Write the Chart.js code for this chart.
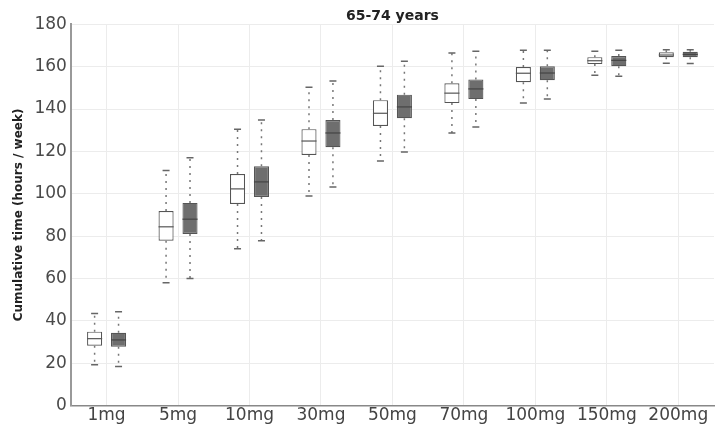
<!DOCTYPE html>
<html>
<head>
<meta charset="utf-8">
<script src="https://cdn.jsdelivr.net/npm/chart.js@4"></script>
<style>
  html, body { margin: 0; padding: 0; background: #fff; }
  #wrap { width: 726px; height: 426px; }
</style>
</head>
<body>
<div id="wrap"><canvas id="myChart"></canvas></div>
<script>
// dose categories
var doses = ["1mg", "5mg", "10mg", "30mg", "50mg", "70mg", "100mg", "150mg", "200mg"];

// box stats per dose: [min, q1, median, q3, max]
var whiteStats = [
  [19.3, 28.3, 31.6, 34.9, 43.5],
  [58, 77.8, 84.4, 91.9, 111],
  [74, 95.2, 102.3, 109.3, 130.5],
  [99, 118.3, 124.9, 130.5, 150.3],
  [115.5, 132, 138, 144.2, 160.2],
  [128.7, 142.8, 147.5, 152.2, 166.4],
  [142.8, 152.7, 156.9, 159.8, 167.8],
  [156, 161.2, 162.8, 164.5, 167.3],
  [161.6, 164.5, 165.5, 166.8, 168]
];
var greyStats = [
  [18.4, 27.8, 31, 34.4, 44.3],
  [60, 81, 88, 95.7, 117],
  [77.8, 98.5, 105.6, 113, 134.8],
  [103.2, 122, 128.7, 134.8, 153.2],
  [119.7, 135.7, 141, 146.8, 162.6],
  [131.5, 144.7, 149.5, 154, 167.3],
  [144.7, 153.6, 157, 160.2, 167.8],
  [155.5, 160.2, 163, 165, 167.8],
  [161.5, 164.5, 165.8, 167, 168]
];

var yTicks = [0, 20, 40, 60, 80, 100, 120, 140, 160, 180];

var allStats = [whiteStats, greyStats];

// whiskers + medians, drawn on top of the floating bars
var boxPlugin = {
  id: "boxWhiskers",
  afterDatasetsDraw: function (chart) {
    var ctx = chart.ctx;
    var y = chart.scales.y;
    allStats.forEach(function (stats, di) {
      var meta = chart.getDatasetMeta(di);
      meta.data.forEach(function (bar, j) {
        var s = stats[j];
        var x = bar.x, half = bar.width / 2;
        var pMin = y.getPixelForValue(s[0]);
        var pQ1 = y.getPixelForValue(s[1]);
        var pMed = y.getPixelForValue(s[2]);
        var pQ3 = y.getPixelForValue(s[3]);
        var pMax = y.getPixelForValue(s[4]);
        ctx.save();
        ctx.strokeStyle = "#777";
        ctx.lineWidth = 1.5;
        ctx.setLineDash([2, 5]);
        ctx.beginPath();
        ctx.moveTo(x, pQ3); ctx.lineTo(x, pMax);
        ctx.moveTo(x, pQ1); ctx.lineTo(x, pMin);
        ctx.stroke();
        ctx.setLineDash([]);
        ctx.strokeStyle = "#666";
        ctx.beginPath();
        ctx.moveTo(x - 3.5, pMax); ctx.lineTo(x + 3.5, pMax);
        ctx.moveTo(x - 3.5, pMin); ctx.lineTo(x + 3.5, pMin);
        ctx.stroke();
        ctx.strokeStyle = di === 0 ? "#555" : "#444";
        ctx.lineWidth = 1.2;
        ctx.beginPath();
        ctx.moveTo(x - half, pMed); ctx.lineTo(x + half, pMed);
        ctx.stroke();
        ctx.restore();
      });
    });
  }
};

document.addEventListener("DOMContentLoaded", function () {
  var ctx = document.getElementById("myChart").getContext("2d");

  var data = {
    labels: doses,
    datasets: [
      {
        label: "white",
        data: whiteStats.map(function (s) { return [s[1], s[3]]; }),
        backgroundColor: "#ffffff",
        borderColor: "#555",
        borderWidth: 1.2,
        borderSkipped: false
      },
      {
        label: "grey",
        data: greyStats.map(function (s) { return [s[1], s[3]]; }),
        backgroundColor: "#6e6e6e",
        borderColor: "#555",
        borderWidth: 1.2,
        borderSkipped: false
      }
    ]
  };

  var options = {
    responsive: true,
    maintainAspectRatio: false,
    animation: false,
    categoryPercentage: 0.67,
    barPercentage: 0.63,
    layout: { padding: { left: 12, right: 12, top: 0, bottom: 0 } },
    plugins: {
      legend: { display: false },
      tooltip: { enabled: false },
      title: {
        display: true,
        fullSize: false,
        text: "65-74 years",
        color: "#222",
        font: { family: "DejaVu Sans", size: 14, weight: "bold" },
        padding: { top: 7.5, bottom: 0 }
      }
    },
    scales: {
      x: {
        grid: { offset: false, color: "#ececec", drawTicks: false },
        border: { color: "#888", width: 1.5 },
        ticks: { color: "#444", font: { family: "DejaVu Sans", size: 17 }, padding: 0 }
      },
      y: {
        min: 0,
        max: 180,
        afterBuildTicks: function (axis) {
          axis.ticks = yTicks.map(function (v) { return { value: v }; });
        },
        grid: { color: "#ececec", drawTicks: false },
        border: { color: "#999", width: 2 },
        ticks: { color: "#4a4a4a", font: { family: "DejaVu Sans", size: 17 }, padding: 4 },
        title: {
          display: true,
          text: "Cumulative time (hours / week)",
          color: "#222",
          font: { family: "DejaVu Sans", size: 12, weight: "bold" },
          padding: { top: 0, bottom: 4 }
        }
      }
    }
  };

  new Chart(ctx, {
    type: "bar",
    data: data,
    options: options,
    plugins: [boxPlugin]
  });
});
</script>
</body>
</html>
